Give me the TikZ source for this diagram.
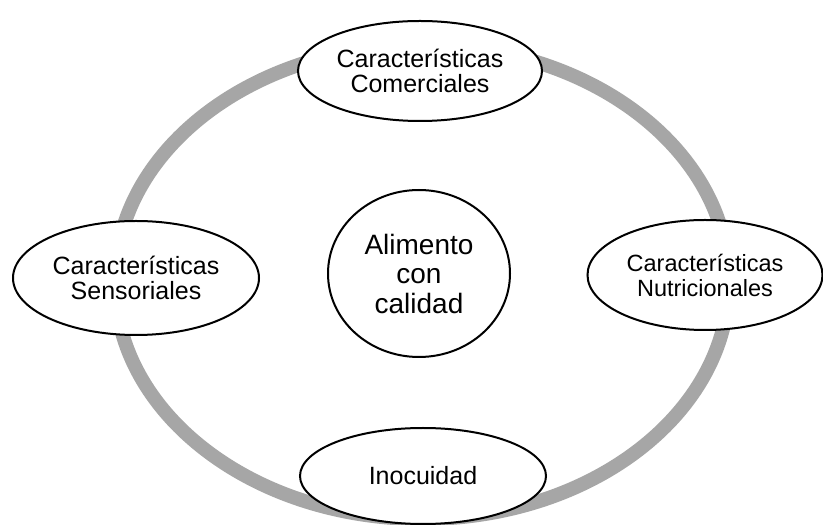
\documentclass[tikz,border=0pt]{standalone}
\usepackage{fontspec}
\setmainfont{Liberation Sans}
\usetikzlibrary{shapes.geometric}
\definecolor{ringgray}{HTML}{A6A6A6}
\tikzset{
  oval/.style={ellipse, draw=black, line width=2pt, fill=white, inner sep=0pt, align=center,
    font=\fontsize{25}{25.5}\selectfont},
  ring/.style={draw=ringgray, line width=14pt}
}
\begin{document}
\begin{tikzpicture}[x=1pt,y=1pt]
\fill[white] (0,0) rectangle (823,525);
\useasboundingbox (0,0) rectangle (823,525);
\coordinate (ringc) at (422,243);
\draw[ring] (ringc) ellipse (307 and 237);
\node[oval, minimum width=244pt, minimum height=100pt] (com) at (420,454) {Características\\Comerciales};
\node[oval, minimum width=246pt, minimum height=114pt] (sen) at (136,247) {Características\\Sensoriales};
\node[oval, minimum width=235pt, minimum height=110pt, font=\fontsize{23.5}{25}\selectfont] (nut) at (705,250) {Características\\Nutricionales};
\node[oval, minimum width=246pt, minimum height=96pt] (ino) at (423,49) {Inocuidad};
\node[oval, minimum width=182pt, minimum height=167pt, font=\fontsize{28}{29.5}\selectfont] (ali) at (419,251.5) {Alimento\\con\\calidad};
\end{tikzpicture}
\end{document}
